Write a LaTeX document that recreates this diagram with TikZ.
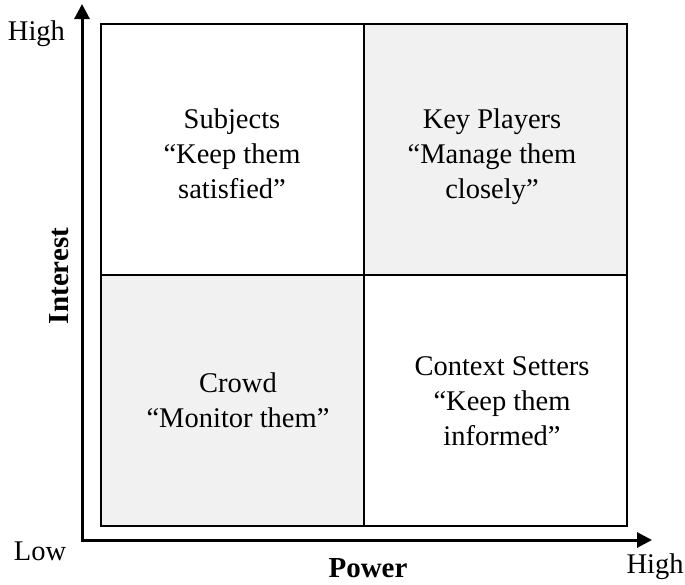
\documentclass[tikz,border=0pt]{standalone}
\usepackage{fontspec}
\setmainfont{Liberation Serif}
\usetikzlibrary{arrows.meta}
\definecolor{quadgray}{RGB}{241,241,241}
\begin{document}
\begin{tikzpicture}[x=1pt,y=-1pt,
  quad/.style={draw=black, line width=2pt, inner sep=0pt, minimum width=263pt, minimum height=251pt},
  shaded/.style={quad, fill=quadgray},
  plain/.style={quad, fill=white},
  qtext/.style={align=center, inner sep=0pt, font=\fontsize{28.5}{35}\selectfont},
  axlabel/.style={inner sep=0pt, font=\fontsize{28.5}{34}\selectfont},
  axtitle/.style={inner sep=0pt, font=\fontsize{29}{34}\selectfont\bfseries},
  axis/.style={line width=3pt, line join=miter, {Triangle[length=15pt,width=15pt]}-{Triangle[length=15pt,width=15pt]}}
]
\useasboundingbox (0,0) rectangle (685,584);
\fill[white] (0,0) rectangle (685,584);

% quadrants
\node[plain]  (ul) at (232,149.5) {};
\node[shaded] (ur) at (495.5,149.5) {};
\node[shaded] (ll) at (232,400.5) {};
\node[plain]  (lr) at (495.5,400.5) {};

% quadrant texts (base anchor = baseline of last line)
\node[qtext, anchor=base] (tul) at (232,198) {Subjects\\“Keep them\\satisfied”};
\node[qtext, anchor=base] (tur) at (492,198) {Key Players\\“Manage them\\closely”};
\node[qtext, anchor=base] (tll) at (238,427) {Crowd\\“Monitor them”};
\node[qtext, anchor=base] (tlr) at (502,445) {Context Setters\\“Keep them\\informed”};

% axes
\coordinate (ytip) at (82,4);
\coordinate (origin) at (82,540);
\coordinate (xtip) at (652,540);
\draw[axis] (ytip) -- (origin) -- (xtip);

% axis labels
\node[axlabel, anchor=base] (yhigh) at (36.5,40) {High};
\node[axlabel, anchor=base] (ylow) at (40,560) {Low};
\node[axlabel, anchor=base] (xhigh) at (655,573) {High};
\node[axtitle, anchor=base] (power) at (368,577) {Power};
\node[axtitle, rotate=90, anchor=center] (interest) at (59,276) {Interest};
\end{tikzpicture}
\end{document}
